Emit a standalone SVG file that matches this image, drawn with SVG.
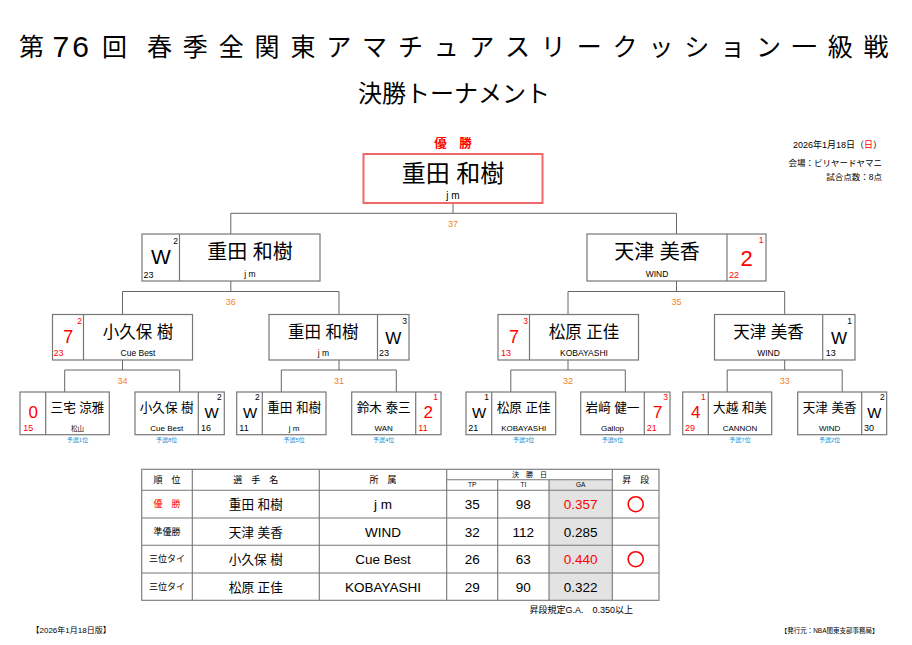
<svg xmlns="http://www.w3.org/2000/svg" width="912" height="645" viewBox="0 0 912 645">
<style>
text{font-family:"Liberation Sans","Noto Sans CJK JP",sans-serif;fill:#000}
.c{text-anchor:middle}
.e{text-anchor:end}
.jp{font-family:"Noto Sans CJK JP",sans-serif}
.box{fill:#fff;stroke:#777;stroke-width:1.2}
.dv{stroke:#777;stroke-width:1.2}
.ln{stroke:#666;stroke-width:1;fill:none}
.r{fill:#f00}
.o{fill:#f58220;font-size:9px;text-anchor:middle}
.q{fill:#1a8fd8;font-size:6px;text-anchor:middle}
.n1{font-size:20px;text-anchor:middle}
.n2{font-size:16.5px;text-anchor:middle}
.n3{font-size:12.6px;text-anchor:middle}
.s1{font-size:8.5px;text-anchor:middle}
.s3{font-size:8px;text-anchor:middle}
.sc1{font-size:21px;text-anchor:middle}
.sc2{font-size:17px;text-anchor:middle}
.sc3{font-size:15px;text-anchor:middle}
.sup{font-size:8.5px;text-anchor:middle}
.bl{font-size:9px}
.tl{stroke:#777;stroke-width:1.1;fill:none}
.th{font-size:9px;text-anchor:middle}
.tn{font-size:12.6px;text-anchor:middle}
.tv{font-size:13.5px;text-anchor:middle}
</style>

<g id="title">
<text x="19" y="55.5" class="jp" style="font-size:25px">第</text>
<text x="52.5" y="56.5" style="font-size:30px;letter-spacing:3px">76</text>
<text x="102" y="55.5" class="jp" style="font-size:25px">回</text>
<text x="147" y="55.5" class="jp" style="font-size:25px;letter-spacing:10.85px">春季全関東アマチュアスリークッション一級戦</text>
<text x="454" y="102" class="jp c" style="font-size:24px">決勝トーナメント</text>
</g>

<g id="info">
<text x="882" y="147.5" class="e" style="font-size:9px">2026年1月18日（<tspan class="r">日</tspan>）</text>
<text x="882" y="165.5" class="e" style="font-size:8.5px">会場：ビリヤードヤマニ</text>
<text x="882" y="179.5" class="e" style="font-size:8.5px">試合点数：8点</text>
</g>

<g id="connectors">
<path class="ln" d="M453 203V213.3M230.8 213.3H676.5M230.8 213.3V234M676.5 213.3V234"/>
<path class="ln" d="M230.8 281V291.5M122.5 291.5H339M122.5 291.5V314.5M339 291.5V314.5"/>
<path class="ln" d="M676.5 281V291.5M568 291.5H784.7M568 291.5V314.5M784.7 291.5V314.5"/>
<path class="ln" d="M122.5 360V370M64.7 370H179.7M64.7 370V392M179.7 370V392"/>
<path class="ln" d="M339 360V370M281.3 370H396.3M281.3 370V392M396.3 370V392"/>
<path class="ln" d="M568 360V370M510.8 370H625.3M510.8 370V392M625.3 370V392"/>
<path class="ln" d="M784.7 360V370M727.2 370H842.2M727.2 370V392M842.2 370V392"/>
<text x="453" y="226.7" class="o">37</text>
<text x="230.8" y="305" class="o">36</text>
<text x="676.5" y="305" class="o">35</text>
<text x="122.5" y="383.7" class="o">34</text>
<text x="339" y="383.7" class="o">31</text>
<text x="568" y="383.7" class="o">32</text>
<text x="784.7" y="383.7" class="o">33</text>
</g>

<g id="champion">
<text x="453" y="147.5" class="jp c r" style="font-size:12.5px;font-weight:bold">優　勝</text>
<rect x="363.5" y="154" width="179" height="49" fill="#fff" stroke="#f06868" stroke-width="2"/>
<text x="453" y="181.5" class="c" style="font-size:24px">重田 和樹</text>
<text x="453" y="199" class="c" style="font-size:10px">j m</text>
</g>

<g id="final-left">
<rect class="box" x="142" y="234" width="178" height="47"/>
<line class="dv" x1="179.5" y1="234" x2="179.5" y2="281"/>
<text x="161" y="264" class="sc1">W</text>
<text x="175.5" y="243.5" class="sup">2</text>
<text x="143.5" y="277.5" class="bl">23</text>
<text x="250" y="259" class="n1">重田 和樹</text>
<text x="250" y="277" class="s1">j m</text>
</g>

<g id="final-right">
<rect class="box" x="587" y="234" width="179" height="47"/>
<line class="dv" x1="727" y1="234" x2="727" y2="281"/>
<text x="657" y="259" class="n1">天津 美香</text>
<text x="657" y="277" class="s1">WIND</text>
<text x="746.5" y="265.5" class="r" style="font-size:22px;text-anchor:middle">2</text>
<text x="761" y="242.5" class="sup r">1</text>
<text x="729" y="277.5" class="bl r">22</text>
</g>

<g id="semi-1">
<rect class="box" x="52.5" y="314.5" width="140" height="45.5"/>
<line class="dv" x1="83.5" y1="314.5" x2="83.5" y2="360"/>
<text x="68.3" y="343" class="sc2 r" style="font-size:18px">7</text>
<text x="79.5" y="323.5" class="sup r">2</text>
<text x="53.5" y="356" class="bl r">23</text>
<text x="138" y="338.3" class="n2">小久保 樹</text>
<text x="138" y="356" class="s1">Cue Best</text>
</g>

<g id="semi-2">
<rect class="box" x="269" y="314.5" width="140" height="45.5"/>
<line class="dv" x1="377.5" y1="314.5" x2="377.5" y2="360"/>
<text x="323.3" y="338.3" class="n2">重田 和樹</text>
<text x="323.3" y="356" class="s1">j m</text>
<text x="393.3" y="344" class="sc2">W</text>
<text x="404.5" y="323.5" class="sup">3</text>
<text x="379" y="356" class="bl">23</text>
</g>

<g id="semi-3">
<rect class="box" x="498" y="314.5" width="140.5" height="45.5"/>
<line class="dv" x1="529.5" y1="314.5" x2="529.5" y2="360"/>
<text x="514" y="343" class="sc2 r" style="font-size:18px">7</text>
<text x="525.5" y="323.5" class="sup r">3</text>
<text x="501" y="356" class="bl r">13</text>
<text x="584" y="338.3" class="n2">松原 正佳</text>
<text x="584" y="356" class="s1">KOBAYASHI</text>
</g>

<g id="semi-4">
<rect class="box" x="714.5" y="314.5" width="140.5" height="45.5"/>
<line class="dv" x1="822.7" y1="314.5" x2="822.7" y2="360"/>
<text x="768.5" y="338.3" class="n2">天津 美香</text>
<text x="768.5" y="356" class="s1">WIND</text>
<text x="839" y="344" class="sc2">W</text>
<text x="849.5" y="323.5" class="sup">1</text>
<text x="825.7" y="356" class="bl">13</text>
</g>

<g id="qf-1">
<rect class="box" x="20" y="392" width="89.3" height="42.7"/>
<line class="dv" x1="45.7" y1="392" x2="45.7" y2="434.7"/>
<text x="33.3" y="418.4" class="sc3 r" style="font-size:17px">0</text>
<text x="23.3" y="430.5" class="bl r">15</text>
<text x="77.5" y="411.8" class="n3">三宅 涼雅</text>
<text x="77.5" y="430.5" class="s3" style="font-size:6.5px">松山</text>
<text x="77.5" y="441.8" class="q">予選1位</text>
</g>

<g id="qf-2">
<rect class="box" x="135" y="392" width="89.3" height="42.7"/>
<line class="dv" x1="198.3" y1="392" x2="198.3" y2="434.7"/>
<text x="166.7" y="411.8" class="n3">小久保 樹</text>
<text x="166.7" y="430.5" class="s3">Cue Best</text>
<text x="211.7" y="418.4" class="sc3">W</text>
<text x="219.3" y="400.2" class="sup">2</text>
<text x="201" y="430.5" class="bl">16</text>
<text x="166.7" y="441.8" class="q">予選8位</text>
</g>

<g id="qf-3">
<rect class="box" x="236.7" y="392" width="89.3" height="42.7"/>
<line class="dv" x1="262.3" y1="392" x2="262.3" y2="434.7"/>
<text x="250" y="418.4" class="sc3">W</text>
<text x="257.3" y="400.2" class="sup">2</text>
<text x="239.3" y="430.5" class="bl">11</text>
<text x="294.2" y="411.8" class="n3">重田 和樹</text>
<text x="294.2" y="430.5" class="s3">j m</text>
<text x="294.2" y="441.8" class="q">予選5位</text>
</g>

<g id="qf-4">
<rect class="box" x="351.7" y="392" width="89.3" height="42.7"/>
<line class="dv" x1="415.7" y1="392" x2="415.7" y2="434.7"/>
<text x="383.7" y="411.8" class="n3">鈴木 泰三</text>
<text x="383.7" y="430.5" class="s3">WAN</text>
<text x="428.3" y="418.4" class="sc3 r" style="font-size:17px">2</text>
<text x="435.7" y="400.2" class="sup r">1</text>
<text x="418.3" y="430.5" class="bl r">11</text>
<text x="383.7" y="441.8" class="q">予選4位</text>
</g>

<g id="qf-5">
<rect class="box" x="466" y="392" width="89.7" height="42.7"/>
<line class="dv" x1="491.7" y1="392" x2="491.7" y2="434.7"/>
<text x="479" y="418.4" class="sc3">W</text>
<text x="486.7" y="400.2" class="sup">1</text>
<text x="468.3" y="430.5" class="bl">21</text>
<text x="523.7" y="411.8" class="n3">松原 正佳</text>
<text x="523.7" y="430.5" class="s3">KOBAYASHI</text>
<text x="523.7" y="441.8" class="q">予選3位</text>
</g>

<g id="qf-6">
<rect class="box" x="580.7" y="392" width="89.3" height="42.7"/>
<line class="dv" x1="644.3" y1="392" x2="644.3" y2="434.7"/>
<text x="612.5" y="411.8" class="n3">岩﨑 健一</text>
<text x="612.5" y="430.5" class="s3">Gallop</text>
<text x="657.7" y="418.4" class="sc3 r" style="font-size:17px">7</text>
<text x="665.7" y="400.2" class="sup r">3</text>
<text x="646.7" y="430.5" class="bl r">21</text>
<text x="612.5" y="441.8" class="q">予選6位</text>
</g>

<g id="qf-7">
<rect class="box" x="682.7" y="392" width="89" height="42.7"/>
<line class="dv" x1="708.3" y1="392" x2="708.3" y2="434.7"/>
<text x="695.7" y="418.4" class="sc3 r" style="font-size:17px">4</text>
<text x="703.3" y="400.2" class="sup r">1</text>
<text x="685" y="430.5" class="bl r">29</text>
<text x="740" y="411.8" class="n3">大越 和美</text>
<text x="740" y="430.5" class="s3">CANNON</text>
<text x="740" y="441.8" class="q">予選7位</text>
</g>

<g id="qf-8">
<rect class="box" x="797.7" y="392" width="89" height="42.7"/>
<line class="dv" x1="861.7" y1="392" x2="861.7" y2="434.7"/>
<text x="829.7" y="411.8" class="n3">天津 美香</text>
<text x="829.7" y="430.5" class="s3">WIND</text>
<text x="874.3" y="418.4" class="sc3">W</text>
<text x="882.3" y="400.2" class="sup">2</text>
<text x="864" y="430.5" class="bl">30</text>
<text x="829.7" y="441.8" class="q">予選2位</text>
</g>

<g id="results-table">
<rect x="549" y="479.7" width="63.3" height="120.6" fill="#e3e3e3"/>
<rect class="tl" x="141.7" y="469.3" width="517.3" height="131" stroke-width="1.3"/>
<path class="tl" d="M192.3 469.3V600.3M319.3 469.3V600.3M446.7 469.3V600.3M612.3 469.3V600.3M497.7 479.7V600.3M549 479.7V600.3M446.7 479.7H612.3M141.7 490.3H659M141.7 518H659M141.7 545.3H659M141.7 573H659"/>
<text x="167" y="482.8" class="th">順　位</text>
<text x="255.8" y="482.8" class="th">選　手　名</text>
<text x="383" y="482.8" class="th">所　属</text>
<text x="529.5" y="476.8" class="c" style="font-size:7px">決　勝　日</text>
<text x="472.2" y="487.3" class="c" style="font-size:6.5px">TP</text>
<text x="523.3" y="487.3" class="c" style="font-size:6.5px">TI</text>
<text x="580.7" y="487.3" class="c" style="font-size:6.5px">GA</text>
<text x="635.7" y="482.8" class="th">昇　段</text>

<text x="167" y="507.4" class="th r">優　勝</text>
<text x="255.8" y="509" class="tn">重田 和樹</text>
<text x="383" y="509" class="tv">j m</text>
<text x="472.2" y="509" class="tv">35</text>
<text x="523.3" y="509" class="tv">98</text>
<text x="580.7" y="509" class="tv r">0.357</text>
<circle cx="635.7" cy="504.2" r="7.5" fill="none" stroke="#f00" stroke-width="1.6"/>

<text x="167" y="534.9" class="th">準優勝</text>
<text x="255.8" y="536.5" class="tn">天津 美香</text>
<text x="383" y="536.5" class="tv">WIND</text>
<text x="472.2" y="536.5" class="tv">32</text>
<text x="523.3" y="536.5" class="tv">112</text>
<text x="580.7" y="536.5" class="tv">0.285</text>

<text x="167" y="562.4" class="th">三位タイ</text>
<text x="255.8" y="564" class="tn">小久保 樹</text>
<text x="383" y="564" class="tv">Cue Best</text>
<text x="472.2" y="564" class="tv">26</text>
<text x="523.3" y="564" class="tv">63</text>
<text x="580.7" y="564" class="tv r">0.440</text>
<circle cx="635.7" cy="559.2" r="7.5" fill="none" stroke="#f00" stroke-width="1.6"/>

<text x="167" y="589.9" class="th">三位タイ</text>
<text x="255.8" y="591.5" class="tn">松原 正佳</text>
<text x="383" y="591.5" class="tv">KOBAYASHI</text>
<text x="472.2" y="591.5" class="tv">29</text>
<text x="523.3" y="591.5" class="tv">90</text>
<text x="580.7" y="591.5" class="tv">0.322</text>

<text x="633" y="612.5" class="e" style="font-size:9px">昇段規定G.A.　0.350以上</text>
</g>

<g id="footer">
<text x="31.5" y="632.5" style="font-size:8px">【2026年1月18日版】</text>
<text x="878.5" y="632.5" class="e" style="font-size:6.5px">【発行元：NBA関東支部事務局】</text>
</g>
</svg>
